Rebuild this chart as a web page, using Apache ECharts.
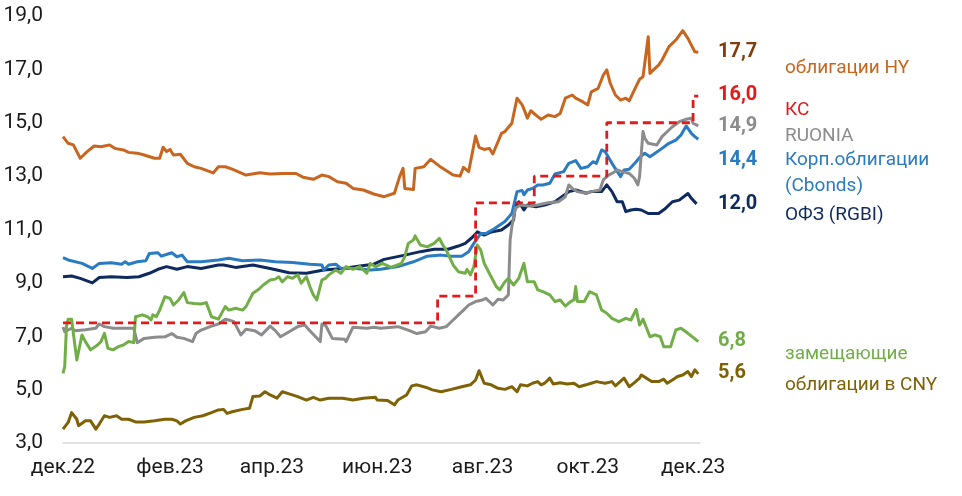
<!DOCTYPE html>
<html>
<head>
<meta charset="utf-8">
<script src="https://cdn.jsdelivr.net/npm/echarts@6/dist/echarts.min.js"></script>
<style>
  html, body { margin: 0; padding: 0; background: #fff; }
  #main { width: 962px; height: 496px; }
</style>
</head>
<body>
<div id="main"></div>
<script>
// tick labels on the x axis (every two months)
var tickDates = ['2022-12-01', '2023-02-01', '2023-04-01', '2023-06-01', '2023-08-01', '2023-10-01', '2023-12-01'];
var tickLabels = ['дек.22', 'фев.23', 'апр.23', 'июн.23', 'авг.23', 'окт.23', 'дек.23'];

// облигации HY
var hy = [['2022-12-01',14.48],['2022-12-04',14.23],['2022-12-07',14.17],['2022-12-11',13.67],['2022-12-15',13.92],['2022-12-19',14.13],['2022-12-23',14.1],['2022-12-28',14.17],['2022-12-31',14.04],['2023-01-05',13.98],['2023-01-08',13.89],['2023-01-13',13.86],['2023-01-17',13.79],['2023-01-23',13.67],['2023-01-26',13.67],['2023-01-28',14.08],['2023-01-30',13.92],['2023-02-01',14.0],['2023-02-03',13.79],['2023-02-07',13.82],['2023-02-11',13.48],['2023-02-15',13.35],['2023-02-19',13.29],['2023-02-26',13.12],['2023-03-01',13.35],['2023-03-05',13.35],['2023-03-09',13.26],['2023-03-17',13.04],['2023-03-25',13.13],['2023-03-31',13.08],['2023-04-07',13.1],['2023-04-15',13.1],['2023-04-19',12.96],['2023-04-25',12.88],['2023-04-30',13.04],['2023-05-04',12.98],['2023-05-09',12.79],['2023-05-14',12.73],['2023-05-18',12.54],['2023-05-24',12.48],['2023-05-30',12.33],['2023-06-05',12.23],['2023-06-11',12.36],['2023-06-14',12.98],['2023-06-16',13.29],['2023-06-17',12.54],['2023-06-22',12.5],['2023-06-23',13.29],['2023-06-28',13.35],['2023-07-02',13.63],['2023-07-08',13.33],['2023-07-15',13.04],['2023-07-19',13.0],['2023-07-21',13.33],['2023-07-24',13.17],['2023-07-28',14.5],['2023-07-30',14.08],['2023-08-02',14.0],['2023-08-05',14.04],['2023-08-07',13.83],['2023-08-12',14.6],['2023-08-14',14.67],['2023-08-18',14.98],['2023-08-21',15.92],['2023-08-24',15.67],['2023-08-26',15.35],['2023-08-27',15.17],['2023-08-29',15.45],['2023-09-02',15.23],['2023-09-04',15.13],['2023-09-08',15.29],['2023-09-12',15.23],['2023-09-15',15.35],['2023-09-18',15.92],['2023-09-22',16.04],['2023-09-24',15.92],['2023-09-28',15.79],['2023-10-01',15.67],['2023-10-03',16.16],['2023-10-07',16.29],['2023-10-10',16.79],['2023-10-12',16.98],['2023-10-14',16.48],['2023-10-17',16.04],['2023-10-20',15.85],['2023-10-23',15.92],['2023-10-25',15.82],['2023-10-28',16.23],['2023-10-31',16.63],['2023-11-02',16.73],['2023-11-03',16.79],['2023-11-05',18.22],['2023-11-06',16.85],['2023-11-08',16.98],['2023-11-11',17.16],['2023-11-13',17.35],['2023-11-17',17.85],['2023-11-21',18.1],['2023-11-25',18.45],['2023-11-28',18.16],['2023-11-30',17.91],['2023-12-02',17.66],['2023-12-04',17.64]];

// КС (ключевая ставка), dates where the steps sit on the chart
var keyRate = [['2022-12-01',7.5],['2023-07-06',8.5],['2023-07-28',12],['2023-08-31',13],['2023-10-12',15],['2023-12-01',16],['2023-12-04',16]];

// RUONIA
var ruonia = [['2022-12-01',7.35],['2022-12-02',7.17],['2022-12-06',7.3],['2022-12-08',7.21],['2022-12-14',7.24],['2022-12-20',7.3],['2022-12-22',7.46],['2022-12-25',7.36],['2022-12-30',7.3],['2023-01-05',7.3],['2023-01-11',7.3],['2023-01-13',6.76],['2023-01-17',6.92],['2023-01-23',6.96],['2023-01-29',6.98],['2023-02-02',7.1],['2023-02-05',6.96],['2023-02-09',6.92],['2023-02-14',6.8],['2023-02-16',7.1],['2023-02-19',7.23],['2023-02-25',7.38],['2023-03-01',7.46],['2023-03-05',7.64],['2023-03-07',7.61],['2023-03-10',7.55],['2023-03-14',7.05],['2023-03-17',7.26],['2023-03-22',7.21],['2023-03-26',7.05],['2023-03-31',7.38],['2023-04-03',7.21],['2023-04-06',6.98],['2023-04-11',7.17],['2023-04-16',7.36],['2023-04-20',7.42],['2023-04-23',7.21],['2023-04-29',6.8],['2023-04-30',7.46],['2023-05-02',7.42],['2023-05-06',6.92],['2023-05-13',6.89],['2023-05-14',6.8],['2023-05-18',7.34],['2023-05-26',7.3],['2023-05-30',7.34],['2023-06-03',7.3],['2023-06-13',7.36],['2023-06-19',7.23],['2023-06-24',7.1],['2023-06-29',7.17],['2023-07-02',7.38],['2023-07-07',7.3],['2023-07-11',7.36],['2023-07-15',7.61],['2023-07-19',7.86],['2023-07-21',7.98],['2023-07-24',8.17],['2023-07-28',8.3],['2023-08-01',8.36],['2023-08-03',8.42],['2023-08-05',8.3],['2023-08-07',8.17],['2023-08-10',8.39],['2023-08-13',8.36],['2023-08-16',8.55],['2023-08-17',10.6],['2023-08-18',11.1],['2023-08-20',11.8],['2023-08-23',11.92],['2023-08-28',11.88],['2023-09-02',11.92],['2023-09-08',12.0],['2023-09-14',12.04],['2023-09-18',12.23],['2023-09-20',12.67],['2023-09-22',12.54],['2023-09-25',12.42],['2023-09-30',12.36],['2023-10-03',12.42],['2023-10-08',12.48],['2023-10-10',12.86],['2023-10-13',13.04],['2023-10-15',13.1],['2023-10-18',13.23],['2023-10-21',13.17],['2023-10-25',13.1],['2023-10-28',12.92],['2023-10-30',12.67],['2023-10-31',12.98],['2023-11-01',13.86],['2023-11-02',14.67],['2023-11-03',14.42],['2023-11-05',14.23],['2023-11-10',14.17],['2023-11-13',14.48],['2023-11-17',14.73],['2023-11-19',14.85],['2023-11-23',15.04],['2023-11-27',15.13],['2023-11-30',15.17],['2023-12-01',14.98],['2023-12-04',14.88]];

// Корп. облигации (Cbonds)
var cbonds = [['2022-12-01',9.95],['2022-12-04',9.86],['2022-12-12',9.73],['2022-12-18',9.54],['2022-12-22',9.73],['2022-12-29',9.75],['2023-01-04',9.7],['2023-01-06',9.79],['2023-01-08',9.7],['2023-01-13',9.79],['2023-01-18',9.83],['2023-01-20',10.1],['2023-01-25',10.13],['2023-01-27',10.0],['2023-02-02',10.13],['2023-02-05',9.98],['2023-02-08',10.04],['2023-02-11',9.79],['2023-02-19',9.79],['2023-03-01',9.86],['2023-03-07',9.92],['2023-03-15',9.83],['2023-03-25',9.86],['2023-04-03',9.79],['2023-04-13',9.76],['2023-04-23',9.7],['2023-04-30',9.67],['2023-05-01',9.48],['2023-05-04',9.67],['2023-05-08',9.7],['2023-05-11',9.54],['2023-05-20',9.54],['2023-05-28',9.48],['2023-06-03',9.51],['2023-06-13',9.61],['2023-06-22',9.79],['2023-06-30',10.0],['2023-07-08',10.04],['2023-07-14',10.0],['2023-07-20',10.0],['2023-07-24',10.17],['2023-07-27',10.48],['2023-07-28',10.54],['2023-07-31',10.85],['2023-08-03',10.85],['2023-08-08',11.04],['2023-08-14',11.3],['2023-08-18',11.6],['2023-08-21',12.42],['2023-08-24',12.46],['2023-08-25',12.3],['2023-08-27',12.48],['2023-08-30',12.54],['2023-09-02',12.67],['2023-09-05',12.67],['2023-09-09',12.73],['2023-09-12',13.08],['2023-09-17',13.17],['2023-09-20',13.48],['2023-09-24',13.58],['2023-09-27',13.29],['2023-10-01',13.35],['2023-10-04',13.54],['2023-10-06',13.48],['2023-10-09',13.98],['2023-10-11',13.92],['2023-10-15',13.48],['2023-10-20',12.98],['2023-10-22',13.23],['2023-10-25',13.26],['2023-10-29',13.54],['2023-10-31',13.7],['2023-11-03',13.86],['2023-11-06',13.73],['2023-11-09',13.86],['2023-11-13',14.04],['2023-11-17',14.23],['2023-11-21',14.35],['2023-11-24',14.54],['2023-11-27',14.88],['2023-11-30',14.6],['2023-12-02',14.48],['2023-12-04',14.38]];

// ОФЗ (RGBI)
var rgbi = [['2022-12-01',9.23],['2022-12-06',9.26],['2022-12-11',9.17],['2022-12-18',9.0],['2022-12-22',9.2],['2022-12-29',9.23],['2023-01-07',9.2],['2023-01-14',9.23],['2023-01-20',9.36],['2023-01-25',9.51],['2023-01-30',9.61],['2023-02-05',9.51],['2023-02-11',9.61],['2023-02-19',9.54],['2023-03-01',9.67],['2023-03-04',9.67],['2023-03-11',9.58],['2023-03-21',9.67],['2023-03-31',9.54],['2023-04-11',9.38],['2023-04-21',9.36],['2023-05-01',9.48],['2023-05-12',9.54],['2023-05-22',9.63],['2023-05-30',9.7],['2023-06-05',9.88],['2023-06-17',10.04],['2023-06-26',10.17],['2023-07-04',10.26],['2023-07-12',10.26],['2023-07-18',10.38],['2023-07-22',10.48],['2023-07-26',10.7],['2023-07-29',10.91],['2023-08-02',10.79],['2023-08-06',10.91],['2023-08-12',10.98],['2023-08-16',11.17],['2023-08-19',11.36],['2023-08-20',11.85],['2023-08-22',12.04],['2023-08-25',11.73],['2023-08-27',11.92],['2023-09-01',11.85],['2023-09-06',11.92],['2023-09-12',12.04],['2023-09-16',12.23],['2023-09-20',12.42],['2023-09-24',12.48],['2023-09-30',12.36],['2023-10-03',12.42],['2023-10-09',12.42],['2023-10-12',12.67],['2023-10-15',12.42],['2023-10-18',12.04],['2023-10-21',12.04],['2023-10-23',11.67],['2023-10-26',11.73],['2023-10-29',11.76],['2023-11-01',11.73],['2023-11-05',11.6],['2023-11-11',11.6],['2023-11-15',11.79],['2023-11-19',12.04],['2023-11-23',12.1],['2023-11-28',12.35],['2023-11-30',12.17],['2023-12-03',11.96]];

// замещающие облигации
var zamesh = [['2022-12-01',5.61],['2022-12-02',5.86],['2022-12-03',7.36],['2022-12-04',7.64],['2022-12-06',7.64],['2022-12-07',7.11],['2022-12-09',6.11],['2022-12-10',6.11],['2022-12-12',7.05],['2022-12-14',6.8],['2022-12-17',6.49],['2022-12-21',6.67],['2022-12-23',6.8],['2022-12-25',7.11],['2022-12-27',6.55],['2022-12-30',6.49],['2023-01-02',6.61],['2023-01-05',6.67],['2023-01-08',6.8],['2023-01-11',6.76],['2023-01-12',7.73],['2023-01-16',7.8],['2023-01-19',7.73],['2023-01-21',7.61],['2023-01-22',7.8],['2023-01-24',7.73],['2023-01-26',7.98],['2023-01-29',8.48],['2023-02-01',8.42],['2023-02-03',8.17],['2023-02-06',8.36],['2023-02-09',8.64],['2023-02-11',8.26],['2023-02-15',8.23],['2023-02-19',8.21],['2023-02-22',8.26],['2023-02-25',7.73],['2023-03-01',7.64],['2023-03-02',7.61],['2023-03-05',8.11],['2023-03-07',7.98],['2023-03-11',8.05],['2023-03-15',7.98],['2023-03-17',8.11],['2023-03-21',8.61],['2023-03-24',8.74],['2023-03-27',8.92],['2023-03-31',9.11],['2023-04-03',9.14],['2023-04-05',9.23],['2023-04-07',9.04],['2023-04-10',9.23],['2023-04-13',9.17],['2023-04-16',9.3],['2023-04-18',8.99],['2023-04-21',9.23],['2023-04-23',8.86],['2023-04-25',8.55],['2023-04-27',8.36],['2023-04-30',9.11],['2023-05-02',9.17],['2023-05-04',9.3],['2023-05-08',9.48],['2023-05-11',9.36],['2023-05-14',9.61],['2023-05-18',9.51],['2023-05-22',9.61],['2023-05-26',9.36],['2023-05-28',9.73],['2023-05-31',9.6],['2023-06-04',9.73],['2023-06-09',9.58],['2023-06-15',9.73],['2023-06-17',9.98],['2023-06-19',10.48],['2023-06-22',10.61],['2023-06-23',10.76],['2023-06-26',10.42],['2023-06-30',10.35],['2023-07-04',10.48],['2023-07-07',10.67],['2023-07-09',10.42],['2023-07-11',10.23],['2023-07-15',9.67],['2023-07-18',9.42],['2023-07-22',9.36],['2023-07-23',9.51],['2023-07-25',9.3],['2023-07-27',9.61],['2023-07-29',10.42],['2023-07-31',10.23],['2023-08-02',9.73],['2023-08-06',9.23],['2023-08-09',8.86],['2023-08-11',8.74],['2023-08-14',9.04],['2023-08-16',9.17],['2023-08-19',8.92],['2023-08-22',9.17],['2023-08-25',9.73],['2023-08-27',9.04],['2023-08-31',9.04],['2023-09-02',8.74],['2023-09-05',8.67],['2023-09-09',8.55],['2023-09-12',8.3],['2023-09-15',8.36],['2023-09-18',8.13],['2023-09-21',8.3],['2023-09-23',8.36],['2023-09-24',8.86],['2023-09-25',8.3],['2023-09-29',8.3],['2023-10-02',8.67],['2023-10-06',8.55],['2023-10-09',7.98],['2023-10-12',7.86],['2023-10-15',7.67],['2023-10-19',7.55],['2023-10-23',7.67],['2023-10-26',7.61],['2023-10-29',8.01],['2023-10-31',7.42],['2023-11-02',7.64],['2023-11-06',6.98],['2023-11-09',7.05],['2023-11-12',6.98],['2023-11-14',6.61],['2023-11-18',6.61],['2023-11-21',7.24],['2023-11-24',7.3],['2023-11-28',7.11],['2023-12-01',6.96],['2023-12-04',6.8]];

// облигации в CNY
var cny = [['2022-12-01',3.52],['2022-12-04',3.77],['2022-12-06',4.14],['2022-12-09',3.89],['2022-12-10',3.65],['2022-12-14',3.83],['2022-12-17',3.83],['2022-12-20',3.52],['2022-12-22',3.71],['2022-12-25',4.02],['2022-12-28',3.96],['2023-01-01',4.02],['2023-01-04',3.89],['2023-01-08',3.89],['2023-01-12',3.79],['2023-01-17',3.79],['2023-01-23',3.83],['2023-01-29',3.89],['2023-02-02',3.89],['2023-02-05',3.83],['2023-02-07',3.71],['2023-02-10',3.83],['2023-02-15',3.96],['2023-02-20',4.02],['2023-02-25',4.14],['2023-03-01',4.24],['2023-03-04',4.26],['2023-03-06',4.11],['2023-03-09',4.17],['2023-03-15',4.26],['2023-03-19',4.3],['2023-03-21',4.74],['2023-03-25',4.76],['2023-03-28',4.92],['2023-03-31',4.8],['2023-04-01',4.84],['2023-04-04',4.68],['2023-04-07',4.92],['2023-04-11',4.84],['2023-04-16',4.74],['2023-04-21',4.61],['2023-04-25',4.71],['2023-04-29',4.61],['2023-05-04',4.68],['2023-05-12',4.68],['2023-05-18',4.61],['2023-05-24',4.68],['2023-05-31',4.71],['2023-06-01',4.61],['2023-06-07',4.59],['2023-06-11',4.43],['2023-06-13',4.61],['2023-06-18',4.8],['2023-06-21',5.14],['2023-06-24',5.18],['2023-06-29',5.09],['2023-07-03',4.99],['2023-07-08',4.92],['2023-07-14',5.01],['2023-07-20',5.11],['2023-07-25',5.18],['2023-07-28',5.36],['2023-07-30',5.71],['2023-08-02',5.24],['2023-08-06',5.18],['2023-08-10',5.05],['2023-08-14',5.01],['2023-08-18',5.11],['2023-08-21',4.92],['2023-08-23',5.18],['2023-08-27',5.14],['2023-08-30',5.24],['2023-09-02',5.3],['2023-09-04',5.18],['2023-09-06',5.24],['2023-09-09',5.43],['2023-09-11',5.21],['2023-09-15',5.26],['2023-09-19',5.21],['2023-09-23',5.24],['2023-09-26',5.11],['2023-09-30',5.18],['2023-10-03',5.24],['2023-10-06',5.3],['2023-10-11',5.24],['2023-10-15',5.3],['2023-10-17',5.14],['2023-10-22',5.43],['2023-10-25',5.11],['2023-10-28',5.26],['2023-10-31',5.43],['2023-11-01',5.55],['2023-11-04',5.43],['2023-11-07',5.3],['2023-11-11',5.3],['2023-11-14',5.39],['2023-11-16',5.24],['2023-11-19',5.36],['2023-11-22',5.49],['2023-11-25',5.55],['2023-11-28',5.68],['2023-11-30',5.49],['2023-12-02',5.74],['2023-12-04',5.59]];

// last values shown at the right
var endValues = ['17,7', '16,0', '14,9', '14,4', '12,0', '6,8', '5,6'];

function ts(s) {
  var p = s.split('-');
  return new Date(+p[0], +p[1] - 1, +p[2]).getTime();
}
function toXY(arr) {
  return arr.map(function (p) { return [ts(p[0]), p[1]]; });
}
var tickTs = tickDates.map(ts);

var FONT = 'Roboto';
var C = {
  hy: '#C8651E', hyDark: '#843C0C',
  kc: '#E31A1C',
  ruonia: '#8C8C8C',
  cbonds: '#2A7BC2',
  rgbi: '#0F2A5F',
  zam: '#72AE48',
  cny: '#7F6205'
};

function lineSeries(name, data, color, z) {
  return {
    name: name, type: 'line', data: toXY(data), z: z,
    showSymbol: false, symbol: 'none',
    lineStyle: { color: color, width: 3, join: 'round' }
  };
}

function txt(x, y, text, color, bold, size) {
  return {
    type: 'text', left: x, top: y - 11,
    style: { text: text, fill: color, font: (bold ? 'bold ' : '') + size + 'px ' + FONT }
  };
}

var chart = echarts.init(document.getElementById('main'));
chart.setOption({
  animation: false,
  backgroundColor: '#fff',
  grid: { left: 63, right: 262, top: 16, bottom: 53 },
  xAxis: {
    type: 'value',
    min: ts('2022-12-01'),
    max: ts('2023-12-05'),
    axisLine: { lineStyle: { color: '#D9D9D9', width: 1.5 } },
    axisTick: { show: false },
    splitLine: { show: false },
    axisLabel: {
      customValues: tickTs,
      margin: 14,
      color: '#1a1a1a',
      fontFamily: FONT,
      fontSize: 21,
      formatter: function (v) {
        var i = tickTs.indexOf(v);
        return i >= 0 ? tickLabels[i] : '';
      }
    }
  },
  yAxis: {
    type: 'value', min: 3, max: 19, interval: 2,
    axisLine: { show: false },
    axisTick: { show: false },
    splitLine: { show: false },
    axisLabel: {
      margin: 20,
      color: '#1a1a1a',
      fontFamily: FONT,
      fontSize: 21,
      formatter: function (v) { return v.toFixed(1).replace('.', ','); }
    }
  },
  series: [
    lineSeries('ОФЗ (RGBI)', rgbi, C.rgbi, 2),
    lineSeries('Корп.облигации (Cbonds)', cbonds, C.cbonds, 3),
    lineSeries('RUONIA', ruonia, C.ruonia, 4),
    lineSeries('замещающие', zamesh, C.zam, 5),
    lineSeries('облигации в CNY', cny, C.cny, 5),
    lineSeries('облигации HY', hy, C.hy, 6),
    {
      name: 'КС', type: 'line', data: toXY(keyRate), step: 'end', z: 7,
      showSymbol: false, symbol: 'none',
      lineStyle: { color: C.kc, width: 2.8, type: [8, 5] }
    }
  ],
  graphic: [
    txt(718, 53, endValues[0], C.hyDark, true, 20),
    txt(785, 70, 'облигации HY', C.hy, false, 19),
    txt(718, 96, endValues[1], C.kc, true, 20),
    txt(785, 112, 'КС', C.kc, false, 19),
    txt(718, 127, endValues[2], C.ruonia, true, 20),
    txt(785, 138, 'RUONIA', C.ruonia, false, 19),
    txt(718, 161, endValues[3], C.cbonds, true, 20),
    txt(785, 162, 'Корп.облигации', C.cbonds, false, 19),
    txt(785, 188, '(Cbonds)', C.cbonds, false, 19),
    txt(718, 205, endValues[4], C.rgbi, true, 20),
    txt(785, 217, 'ОФЗ (RGBI)', C.rgbi, false, 19),
    txt(718, 342, endValues[5], C.zam, true, 20),
    txt(785, 356, 'замещающие', C.zam, false, 19),
    txt(718, 374, endValues[6], C.cny, true, 20),
    txt(785, 387, 'облигации в CNY', C.cny, false, 19)
  ]
});
</script>
</body>
</html>
